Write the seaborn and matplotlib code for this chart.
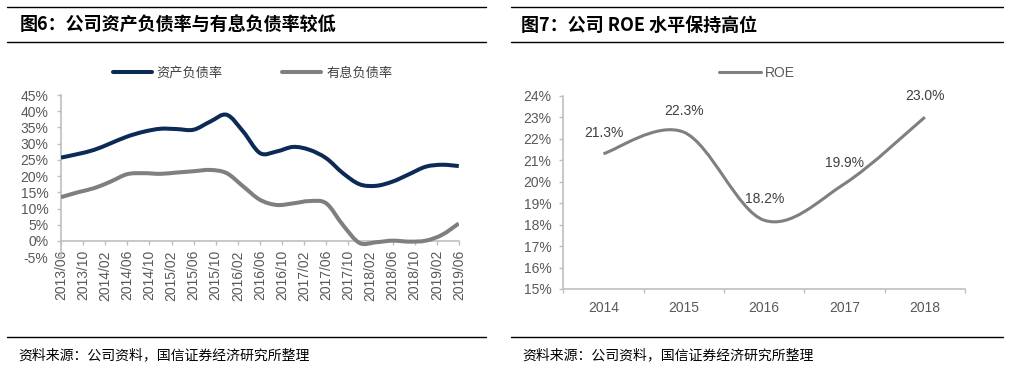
import numpy as np
import pandas as pd
import matplotlib
matplotlib.use("Agg")
import matplotlib.pyplot as plt
import matplotlib.dates as mdates
from matplotlib.path import Path
from matplotlib.patches import PathPatch
from matplotlib.lines import Line2D
from matplotlib.ticker import FuncFormatter, FixedLocator, NullFormatter
import seaborn as sns

# ---------------- data ----------------
quarters = ["2013/06", "2013/09", "2013/12", "2014/03", "2014/06", "2014/09", "2014/12",
            "2015/03", "2015/06", "2015/09", "2015/12", "2016/03", "2016/06", "2016/09",
            "2016/12", "2017/03", "2017/06", "2017/09", "2017/12", "2018/03", "2018/06",
            "2018/09", "2018/12", "2019/03", "2019/06"]
asset_liab = [25.7, 26.8, 28.1, 30.1, 32.2, 33.7, 34.6, 34.5, 34.3, 36.8, 38.9, 33.7, 27.1,
              27.6, 29.0, 28.1, 25.5, 20.9, 17.5, 17.0, 18.3, 20.6, 22.9, 23.5, 23.1]
interest_liab = [13.5, 15.0, 16.3, 18.3, 20.6, 20.9, 20.7, 21.1, 21.5, 21.9, 20.9, 16.8, 12.7,
                 11.1, 11.6, 12.3, 11.6, 4.9, -0.6, -0.4, 0.1, -0.2, 0.1, 1.9, 5.4]
series_names = ["资产负债率", "有息负债率"]

roe_years = ["2014", "2015", "2016", "2017", "2018"]
roe_values = [21.3, 22.3, 18.2, 19.9, 23.0]

title_left = "图6：公司资产负债率与有息负债率较低"
title_right = "图7：公司 ROE 水平保持高位"
source_text = "资料来源：公司资料，国信证券经济研究所整理"

# ---------------- style ----------------
sns.set_theme(style="white")
plt.rcParams["font.family"] = ["Liberation Sans", "Noto Sans CJK SC", "DejaVu Sans"]

NAVY = "#0b2a56"
GREY = "#7f7f7f"
AXC = "#bfbfbf"
TXT = "#595959"

fig = plt.figure(figsize=(10.15, 3.68), dpi=100)


def smooth(ax, line, color, lw):
    """Redraw a seaborn line as a smoothed (Catmull-Rom) curve through its own points."""
    xy = line.get_xydata()
    n = len(xy)
    verts = [tuple(xy[0])]
    codes = [Path.MOVETO]
    for i in range(n - 1):
        p0 = xy[i - 1] if i > 0 else xy[i]
        p1 = xy[i]
        p2 = xy[i + 1]
        p3 = xy[i + 2] if i + 2 < n else xy[i + 1]
        c1 = p1 + (p2 - p0) / 6.0
        c2 = p2 - (p3 - p1) / 6.0
        verts += [tuple(c1), tuple(c2), tuple(p2)]
        codes += [Path.CURVE4] * 3
    ax.add_patch(PathPatch(Path(verts, codes), fill=False, edgecolor=color, lw=lw,
                           capstyle="butt", joinstyle="round", zorder=3))
    line.set_visible(False)


# ---------------- left chart ----------------
axL = fig.add_axes([0.0601, 0.3011, 0.3919, 0.4407])
dates = pd.to_datetime([q + "/01" for q in quarters], format="%Y/%m/%d")
df = pd.DataFrame({"date": list(dates) * 2,
                   "value": asset_liab + interest_liab,
                   "series": [series_names[0]] * len(quarters) + [series_names[1]] * len(quarters)})
sns.lineplot(data=df, x="date", y="value", hue="series", palette=[NAVY, GREY],
             ax=axL, legend=False, lw=2.9)
for ln, col in zip(axL.get_lines()[:2], [NAVY, GREY]):
    smooth(axL, ln, col, 2.9)

axL.set_ylim(-5, 45)
axL.set_yticks(np.arange(-5, 46, 5))
axL.yaxis.set_major_formatter(FuncFormatter(lambda v, p: f"{v:.0f}%"))
axL.set_xlim(pd.Timestamp("2013-06-01"), pd.Timestamp("2019-06-01"))
axL.xaxis.set_major_locator(mdates.MonthLocator(bymonth=[2, 6, 10]))
axL.xaxis.set_major_formatter(mdates.DateFormatter("%Y/%m"))
axL.set_xlabel("")
axL.set_ylabel("")
for s in ["top", "right"]:
    axL.spines[s].set_visible(False)
axL.spines["bottom"].set_position(("data", 0))
for s in ["left", "bottom"]:
    axL.spines[s].set_color(AXC)
    axL.spines[s].set_linewidth(1.2)
axL.tick_params(axis="y", direction="out", length=3, width=1, color=AXC,
                labelsize=10, labelcolor=TXT, pad=6, left=True)
axL.tick_params(axis="x", direction="out", length=3, width=1, color=AXC,
                labelsize=10, labelcolor=TXT, pad=3.5, bottom=True)
for lab in axL.get_xticklabels():
    lab.set_rotation(90)
    lab.set_ha("center")
    lab.set_va("top")

handlesL = [Line2D([], [], color=NAVY, lw=2.9), Line2D([], [], color=GREY, lw=2.9)]
fig.legend(handlesL, series_names, loc="center", bbox_to_anchor=(0.249, 0.8016), ncol=2,
           frameon=False, fontsize=9.5, handlelength=2.95, handletextpad=0.4,
           columnspacing=4.5, labelcolor="#404040",
           prop={"family": ["Noto Sans CJK SC"], "size": 9.5})

# ---------------- right chart ----------------
axR = fig.add_axes([0.555, 0.2147, 0.3958, 0.5253])
xpos = np.arange(len(roe_years))
sns.lineplot(x=xpos, y=roe_values, color=GREY, lw=2.2, ax=axR, legend=False)
smooth(axR, axR.get_lines()[0], GREY, 2.2)
for xi, v in zip(xpos, roe_values):
    axR.annotate(f"{v:.1f}%", (xi, v), xytext=(0, 15), textcoords="offset points",
                 ha="center", va="center", fontsize=10, color="#404040")
axR.set_xlim(-0.5, len(roe_years) - 0.5)
axR.set_ylim(15, 24)
axR.set_yticks(np.arange(15, 25, 1))
axR.yaxis.set_major_formatter(FuncFormatter(lambda v, p: f"{v:.0f}%"))
axR.xaxis.set_major_locator(FixedLocator(np.arange(-0.5, len(roe_years), 1.0)))
axR.xaxis.set_major_formatter(NullFormatter())
axR.xaxis.set_minor_locator(FixedLocator(xpos))
axR.set_xticks(xpos, roe_years, minor=True)
for s in ["top", "right"]:
    axR.spines[s].set_visible(False)
for s in ["left", "bottom"]:
    axR.spines[s].set_color(AXC)
    axR.spines[s].set_linewidth(1.2)
axR.tick_params(axis="y", direction="out", length=3, width=1, color=AXC,
                labelsize=10, labelcolor=TXT, pad=5.5, left=True)
axR.tick_params(axis="x", which="major", direction="out", length=3, width=1, color=AXC,
                bottom=True)
axR.tick_params(axis="x", which="minor", length=0, labelsize=10, labelcolor=TXT, pad=8.5)

fig.legend([Line2D([], [], color=GREY, lw=2.2)], ["ROE"], loc="center",
           bbox_to_anchor=(0.7458, 0.8016), frameon=False, fontsize=10,
           handlelength=3.0, handletextpad=0.25, labelcolor=TXT)

# ---------------- titles, rules, sources ----------------
def hrule(x0, x1, y):
    fig.add_artist(Line2D([x0 / 1015, x1 / 1015], [1 - y / 368, 1 - y / 368],
                          transform=fig.transFigure, color="black", lw=1.0))

hrule(7, 486, 7)
hrule(7, 486, 42)
hrule(7, 486, 337)
hrule(511, 1003, 7)
hrule(511, 1003, 42)
hrule(511, 1003, 337)

fig.text(20 / 1015, 1 - 25 / 368, title_left, fontsize=13, fontweight="bold",
         color="black", va="center", ha="left",
         family=["Noto Sans CJK SC", "DejaVu Sans"])
fig.text(521 / 1015, 1 - 25 / 368, title_right, fontsize=13, fontweight="bold",
         color="black", va="center", ha="left",
         family=["Noto Sans CJK SC", "DejaVu Sans"])
fig.text(18 / 1015, 1 - 355 / 368, source_text, fontsize=10, color="black",
         va="center", ha="left", family=["Noto Sans CJK SC", "DejaVu Sans"])
fig.text(522 / 1015, 1 - 355 / 368, source_text, fontsize=10, color="black",
         va="center", ha="left", family=["Noto Sans CJK SC", "DejaVu Sans"])

fig.savefig("out.png", dpi=100, facecolor="white")
